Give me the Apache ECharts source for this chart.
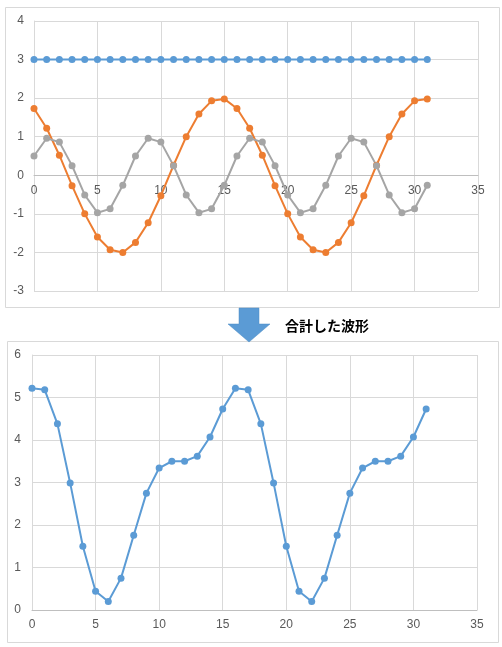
<!DOCTYPE html>
<html>
<head>
<meta charset="utf-8">
<script src="https://cdn.jsdelivr.net/npm/echarts@6/dist/echarts.min.js"></script>
<style>
html, body { margin: 0; padding: 0; background: #fff; }
#chart { width: 502px; height: 647px; }
</style>
</head>
<body>
<div id="chart"></div>
<script>
// x位置
var xValues = [0, 1, 2, 3, 4, 5, 6, 7, 8, 9, 10, 11, 12, 13, 14, 15,
    16, 17, 18, 19, 20, 21, 22, 23, 24, 25, 26, 27, 28, 29, 30, 31];
// 一定値
var flatValues = [3, 3, 3, 3, 3, 3, 3, 3, 3, 3, 3, 3, 3, 3, 3, 3,
    3, 3, 3, 3, 3, 3, 3, 3, 3, 3, 3, 3, 3, 3, 3, 3];
// 振幅2の波
var orangeValues = [1.73, 1.22, 0.52, -0.27, -1.0, -1.6, -1.93, -2.0, -1.74, -1.23, -0.53, 0.26, 1.0, 1.59, 1.93, 1.98,
    1.73, 1.22, 0.52, -0.27, -1.0, -1.6, -1.93, -2.0, -1.74, -1.23, -0.53, 0.26, 1.0, 1.59, 1.93, 1.98];
// 振幅1の波
var grayValues = [0.5, 0.96, 0.86, 0.25, -0.51, -0.97, -0.87, -0.26, 0.5, 0.96, 0.86, 0.25, -0.51, -0.97, -0.87, -0.26,
    0.5, 0.96, 0.86, 0.25, -0.51, -0.97, -0.87, -0.26, 0.5, 0.96, 0.86, 0.25, -0.51, -0.97, -0.87, -0.26];
// 合計した波形
var sumValues = [5.22, 5.18, 4.38, 2.99, 1.5, 0.44, 0.2, 0.75, 1.76, 2.75, 3.34, 3.5, 3.5, 3.62, 4.07, 4.73,
    5.22, 5.18, 4.38, 2.99, 1.5, 0.44, 0.2, 0.75, 1.76, 2.75, 3.34, 3.5, 3.5, 3.62, 4.07, 4.73];
var captionText = '合計した波形';

var topRange = [-3, 4];
var bottomRange = [0, 6];
var topHeight = 270;
var bottomHeight = 255;

function pairs(ys) {
    var out = [];
    xValues.forEach(function(x, i) {
        out.push([x, ys[i]]);
    });
    return out;
}

var labelStyle = {
    color: '#595959',
    fontSize: 12,
    fontFamily: 'Liberation Sans'
};

// onZeroが効かないので、y=0の位置までoffsetで上げる
function makeX(gridIndex, range, height) {
    var zeroOffset = -height * (0 - range[0]) / (range[1] - range[0]);
    return {
        type: 'value',
        gridIndex: gridIndex,
        position: 'bottom',
        offset: zeroOffset,
        min: 0,
        max: 35,
        interval: 5,
        axisLine: { onZero: false, lineStyle: { color: '#bfbfbf', width: 1 } },
        axisTick: { show: false },
        axisLabel: Object.assign({ margin: 9, showMinLabel: true, showMaxLabel: true }, labelStyle),
        splitLine: { show: true, lineStyle: { color: '#d9d9d9', width: 1 } }
    };
}

function makeY(gridIndex, range, margin) {
    return {
        type: 'value',
        gridIndex: gridIndex,
        min: range[0],
        max: range[1],
        interval: 1,
        axisLine: { show: true, onZero: false, lineStyle: { color: '#d9d9d9', width: 1 } },
        axisTick: { show: false },
        axisLabel: Object.assign({ margin: margin, showMinLabel: true, showMaxLabel: true }, labelStyle),
        splitLine: { show: true, lineStyle: { color: '#d9d9d9', width: 1 } }
    };
}

function lineSeries(name, ys, color, xi, yi) {
    return {
        name: name,
        type: 'line',
        xAxisIndex: xi,
        yAxisIndex: yi,
        data: pairs(ys),
        symbol: 'circle',
        symbolSize: 7,
        lineStyle: { color: color, width: 2 },
        itemStyle: { color: color },
        animation: false
    };
}

var myEchart = echarts.init(document.getElementById('chart'));
var option = {
    backgroundColor: '#fff',
    animation: false,
    grid: [
        { left: 34, right: 24, top: 21, height: topHeight },
        { left: 32, right: 25, top: 355, height: bottomHeight }
    ],
    xAxis: [makeX(0, topRange, topHeight), makeX(1, bottomRange, bottomHeight)],
    yAxis: [makeY(0, topRange, 10), makeY(1, bottomRange, 11)],
    graphic: [
        {
            type: 'rect',
            shape: { x: 5.5, y: 7.5, width: 494, height: 300 },
            style: { fill: 'none', stroke: '#d9d9d9', lineWidth: 1 },
            z: -1
        },
        {
            type: 'rect',
            shape: { x: 7.5, y: 341.5, width: 491, height: 301 },
            style: { fill: 'none', stroke: '#d9d9d9', lineWidth: 1 },
            z: -1
        },
        {
            type: 'polygon',
            shape: {
                points: [[239, 308], [259, 308], [259, 324], [270, 324], [249, 342], [228, 324], [239, 324]]
            },
            style: { fill: '#5b9bd5', stroke: '#4f8cc4', lineWidth: 0.5 },
            z: 10
        },
        {
            type: 'text',
            x: 285,
            y: 326,
            style: {
                text: captionText,
                fill: '#000',
                font: 'bold 14px "Noto Sans CJK JP"',
                verticalAlign: 'middle'
            },
            z: 10
        }
    ],
    series: [
        lineSeries('一定', flatValues, '#5b9bd5', 0, 0),
        lineSeries('波1', orangeValues, '#ed7d31', 0, 0),
        lineSeries('波2', grayValues, '#a5a5a5', 0, 0),
        lineSeries('合計', sumValues, '#5b9bd5', 1, 1)
    ]
};
myEchart.setOption(option);
</script>
</body>
</html>
